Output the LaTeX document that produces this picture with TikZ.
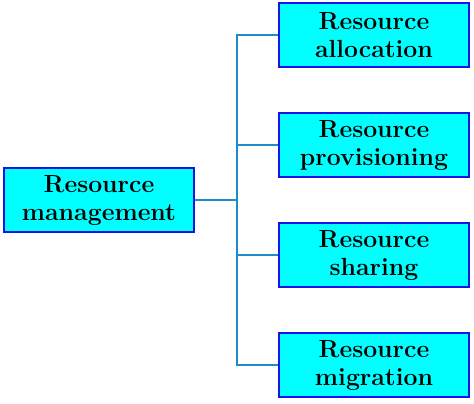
\documentclass[tikz,border=0pt]{standalone}
\usepackage{tikz}
\definecolor{linkblue}{RGB}{30,140,200}
\definecolor{boxcyan}{RGB}{0,255,255}
\definecolor{boxblue}{RGB}{20,20,230}

\begin{document}
\begin{tikzpicture}[
    box/.style={draw=boxblue,fill=boxcyan,line width=0.6pt,minimum width=95pt,minimum height=32pt,
                align=center,font=\fontsize{12.4}{14}\selectfont\bfseries,inner sep=2pt},
    link/.style={draw=linkblue,line width=1pt}
  ]
    
    \useasboundingbox (-49.5pt,-101.5pt) rectangle (187.5pt,100pt);
    
    \node[box] (root) at (0,0) {Resource\\management};
    \coordinate (fork) at (68.75pt,0);
    
    \foreach \name/\ypos/\word in {alloc/82.5/allocation,prov/27.5/provisioning,share/-27.5/sharing,migr/-82.5/migration}{
        \node[box] (\name) at (137.5pt,\ypos pt) {Resource\\\word};
        \draw[link] (fork) |- (\name.west);
    }
    
    \draw[link] (root.east) -- (fork);
    
\end{tikzpicture}
\end{document}
